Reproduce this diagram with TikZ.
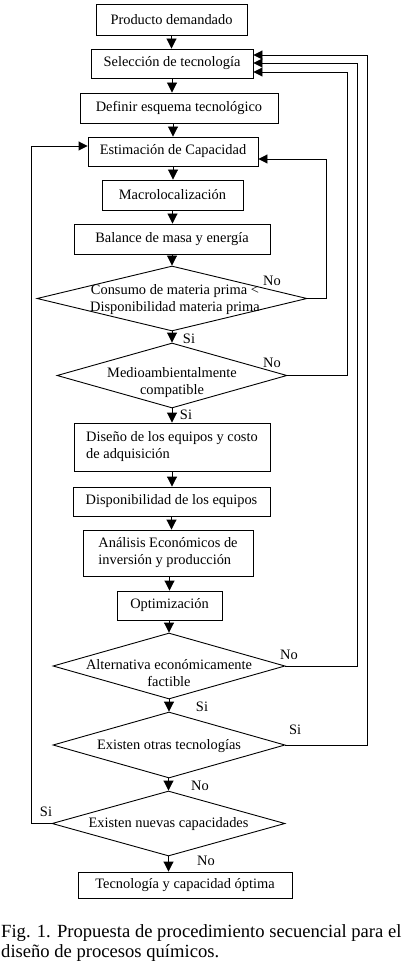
\documentclass[tikz,border=0pt]{standalone}
\usepackage{fontspec}
\setmainfont{Liberation Serif}
\usetikzlibrary{arrows.meta,shapes.geometric}
\newcommand\bxf{\fontsize{14.4}{17}\selectfont}
\newcommand\capf{\fontsize{18.6}{20}\selectfont}
\begin{document}
\begin{tikzpicture}[x=1pt,y=-1pt,
  box/.style={draw,line width=0.9pt,rectangle,inner sep=0pt,font=\bxf,align=center},
  dia/.style={draw,line width=0.9pt,diamond,inner sep=0pt},
  dtext/.style={font=\bxf,align=center,inner sep=0pt},
  lbl/.style={font=\bxf,inner sep=0pt},
  flow/.style={line width=0.9pt,-{Triangle[length=10pt,width=10pt]}},
  loopar/.style={line width=0.9pt,-{Triangle[length=9pt,width=9pt]}}]
\fill[white] (0,0) rectangle (407,965);
\useasboundingbox (0,0) rectangle (407,965);
% boxes and decisions
\node[box,minimum width=151pt,minimum height=31pt] (b1) at (171.5,19.5) {Producto demandado};
\node[box,minimum width=162pt,minimum height=29pt] (b2) at (172,63.5) {Selección de tecnología};
\node[box,minimum width=198pt,minimum height=30pt] (b3) at (179,108) {Definir esquema tecnológico};
\node[box,minimum width=170pt,minimum height=29pt] (b4) at (173,151.5) {Estimación de Capacidad};
\node[box,minimum width=141pt,minimum height=30pt] (b5) at (172.5,195) {Macrolocalización};
\node[box,minimum width=196pt,minimum height=30pt] (b6) at (172,239) {Balance de masa y energía};
\node[dia,minimum width=270pt,minimum height=65pt] (d1) at (172,298.5) {};
\node[dtext] (t1) at (175,299.5) {Consumo de materia prima <\\Disponibilidad materia prima};
\node[dia,minimum width=230pt,minimum height=65pt] (d2) at (172,375.5) {};
\node[dtext] (t2) at (172,383) {Medioambientalmente\\compatible};
\node[box,minimum width=196pt,minimum height=48pt,align=left] (b7) at (172,447) {Diseño de los equipos y costo\\de adquisición};
\node[box,minimum width=197pt,minimum height=29pt] (b8) at (171.5,501.5) {Disponibilidad de los equipos};
\node[box,minimum width=170pt,minimum height=46pt,align=left] (b9) at (168,553) {Análisis Económicos de\\inversión y producción};
\node[box,minimum width=105pt,minimum height=29pt] (b10) at (169.5,605.5) {Optimización};
\node[dia,minimum width=232pt,minimum height=66pt] (d3) at (169,666) {};
\node[dtext] (t3) at (169,673) {Alternativa económicamente\\factible};
\node[dia,minimum width=232pt,minimum height=66pt] (d4) at (169,745) {};
\node[dtext] (t4) at (169,746) {Existen otras tecnologías};
\node[dia,minimum width=233pt,minimum height=65pt] (d5) at (168.5,823.5) {};
\node[dtext] (t5) at (168.5,824) {Existen nuevas capacidades};
\node[box,minimum width=214pt,minimum height=26pt] (b11) at (185,885) {Tecnología y capacidad óptima};
% main flow
\draw[flow] (b1.south) -- (b1.south |- b2.north);
\draw[flow] (b2.south) -- (b2.south |- b3.north);
\draw[flow] (b4.north |- b3.south) -- (b4.north);
\draw[flow] (b4.south) -- (b4.south |- b5.north);
\draw[flow] (b5.south) -- (b5.south |- b6.north);
\draw[flow] (b6.south) -- (d1.north);
\draw[flow] (d1.south) -- (d2.north);
\draw[flow] (d2.south) -- (d2.south |- b7.north);
\draw[flow] (b7.south) -- (b7.south |- b8.north);
\draw[flow] (b8.south) -- (b8.south |- b9.north);
\draw[flow] (b10.north |- b9.south) -- (b10.north);
\draw[flow] (d3.north |- b10.south) -- (d3.north);
\draw[flow] (d3.south) -- (d4.north);
\draw[flow] (d5.north |- d4.south) -- (d5.north);
\draw[flow] (d5.south) -- (d5.south |- b11.north);
% feedback loops
\coordinate (r1) at (326,159);
\draw[loopar] (d1.east) -| (r1) -- (b4.east |- r1);
\coordinate (r2) at (347,72);
\draw[loopar] (d2.east) -| (r2) -- (b2.east |- r2);
\coordinate (r3) at (357,63);
\draw[loopar] (d3.east) -| (r3) -- (b2.east |- r3);
\coordinate (r4) at (367,55);
\draw[loopar] (d4.east) -| (r4) -- (b2.east |- r4);
\coordinate (r5) at (31,146);
\draw[loopar] (d5.west) -| (r5) -- (b4.west |- r5);
% labels
\node[lbl] (l1) at (272,281) {No};
\node[lbl] (l2) at (272,363) {No};
\node[lbl] (l3) at (289,655) {No};
\node[lbl] (l4) at (295,730) {Si};
\node[lbl] (l5) at (46,812) {Si};
\node[lbl] (s1) at (189,339) {Si};
\node[lbl] (s2) at (186,415) {Si};
\node[lbl] (s3) at (202,707) {Si};
\node[lbl] (n4) at (200,786) {No};
\node[lbl] (n5) at (206,861) {No};
% caption
\node[font=\capf,align=left,anchor=base west,inner sep=0pt] (cap) at (1,957) {Fig. 1. Propuesta de procedimiento secuencial para el\\diseño de procesos químicos.};
\end{tikzpicture}
\end{document}
